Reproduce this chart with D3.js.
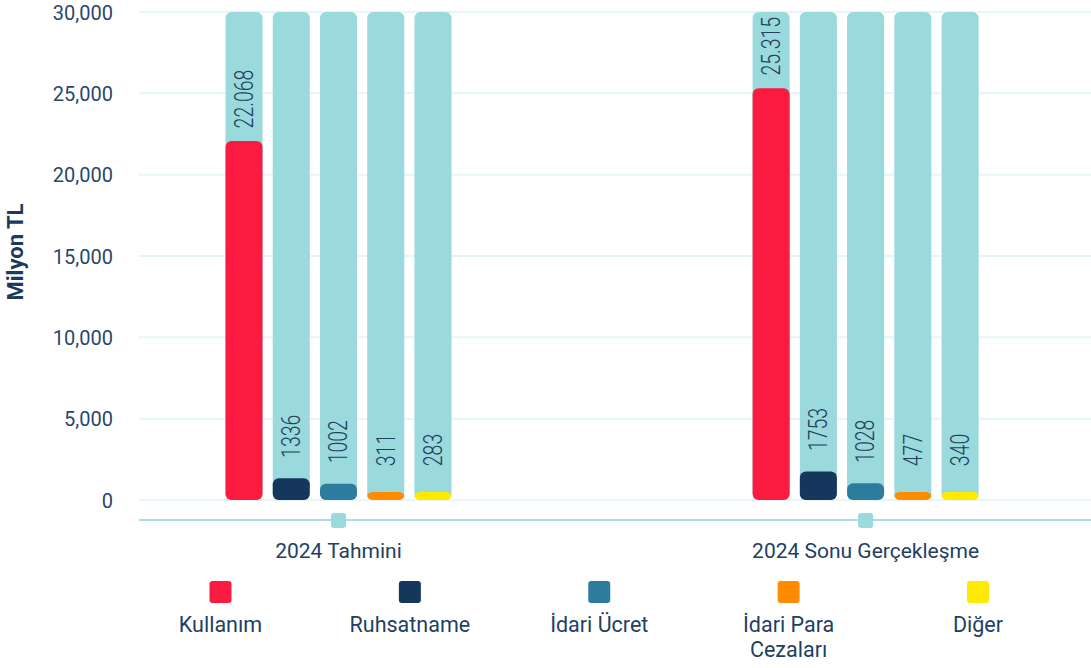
<!DOCTYPE html>
<html>
<head>
<meta charset="utf-8">
<script src="https://cdn.jsdelivr.net/npm/d3@7"></script>
<style>
  html, body { margin: 0; padding: 0; background: #ffffff; }
  svg { display: block; font-family: Roboto, "Noto Sans", sans-serif; }
</style>
</head>
<body>
<svg id="chart" width="1091" height="668"></svg>
<script>
// ---- data ----
const groups = ["2024 Tahmini", "2024 Sonu Gerçekleşme"];
const series = ["Kullanım", "Ruhsatname", "İdari Ücret", "İdari Para Cezaları", "Diğer"];
const legendLines = [["Kullanım"], ["Ruhsatname"], ["İdari Ücret"], ["İdari Para", "Cezaları"], ["Diğer"]];
const tahminiValues = [22068, 1336, 1002, 311, 283];
const gerceklesmeValues = [25315, 1753, 1028, 477, 340];
const valueLabels = [["22.068", "1336", "1002", "311", "283"], ["25.315", "1753", "1028", "477", "340"]];
const yTicks = [0, 5000, 10000, 15000, 20000, 25000, 30000];
const colors = ["#fb1a40", "#15375b", "#2e7c9d", "#ff8c00", "#ffea00"];
const yMax = 30000;

const allValues = [tahminiValues, gerceklesmeValues];

const svg = d3.select("#chart");
const textColor = "#223f63";

const y = d3.scaleLinear().domain([0, yMax]).range([500, 12]);
const x0 = d3.scalePoint().domain(groups).range([338.5, 865.6]);
const x1 = d3.scaleBand().domain(series).range([-113, 113]).paddingInner(0.216).paddingOuter(0);
const color = d3.scaleOrdinal().domain(series).range(colors);

// gridlines
svg.append("g").selectAll("line").data(yTicks).join("line")
  .attr("x1", 139).attr("x2", 1091)
  .attr("y1", d => y(d)).attr("y2", d => y(d))
  .attr("stroke", "#e6f5f6").attr("stroke-width", 2);

// y tick labels via axis
const yAxis = d3.axisLeft(y).tickValues(yTicks).tickSize(0).tickPadding(0)
  .tickFormat(d3.format(","));
const yg = svg.append("g").attr("transform", "translate(113,0)").call(yAxis);
yg.select(".domain").remove();
yg.selectAll("text").attr("fill", "#2a476b").attr("font-size", 20)
  .attr("font-family", "Roboto, sans-serif").attr("dy", "0.35em");

// axis title
svg.append("text")
  .attr("transform", "translate(23,252) rotate(-90)")
  .attr("text-anchor", "middle")
  .attr("font-size", 22).attr("font-weight", 700)
  .attr("fill", "#1a3a5e")
  .text("Milyon TL");

// baseline
svg.append("line").attr("x1", 139).attr("x2", 1091).attr("y1", 520).attr("y2", 520)
  .attr("stroke", "#a9dfe1").attr("stroke-width", 2);

// group markers
svg.append("g").selectAll("rect").data(groups).join("rect")
  .attr("x", d => x0(d) - 7.5).attr("y", 513).attr("width", 15).attr("height", 15)
  .attr("rx", 3).attr("fill", "#9ad9dc");

// x labels
svg.append("g").selectAll("text").data(groups).join("text")
  .attr("x", d => x0(d)).attr("y", 558)
  .attr("text-anchor", "middle").attr("font-size", 21)
  .attr("fill", textColor).text(d => d);

// bars
const bw = x1.bandwidth();
groups.forEach((g, gi) => {
  const gg = svg.append("g").attr("transform", `translate(${x0(g)},0)`);
  const data = series.map((s, si) => ({ s, v: allValues[gi][si], label: valueLabels[gi][si] }));
  // background bars
  gg.selectAll("rect.bg").data(data).join("rect").attr("class", "bg")
    .attr("x", d => x1(d.s)).attr("width", bw)
    .attr("y", y(yMax)).attr("height", y(0) - y(yMax))
    .attr("rx", 6).attr("fill", "#9ad9dc");
  // value bars (min visual height so tiny values stay visible)
  const h = d => Math.max(y(0) - y(d.v), 8);
  gg.selectAll("rect.val").data(data).join("rect").attr("class", "val")
    .attr("x", d => x1(d.s)).attr("width", bw)
    .attr("y", d => y(0) - h(d)).attr("height", d => h(d))
    .attr("rx", 6).attr("fill", d => color(d.s));
  // labels
  gg.selectAll("text.lbl").data(data).join("text").attr("class", "lbl")
    .attr("transform", d => `translate(${x1(d.s) + bw / 2},${y(0) - h(d) - 42}) rotate(-90) scale(0.78,1)`)
    .attr("text-anchor", "middle").attr("dy", "0.35em")
    .attr("font-size", 25).attr("font-weight", 300).attr("fill", "#22405f")
    .text(d => d.label);
});

// legend
const lx = d3.scalePoint().domain(series).range([220.5, 978]);
const lg = svg.append("g");
lg.selectAll("rect").data(series).join("rect")
  .attr("x", d => lx(d) - 11).attr("y", 581).attr("width", 22).attr("height", 22)
  .attr("rx", 3).attr("fill", d => color(d));
lg.selectAll("text").data(series).join("text")
  .attr("x", d => lx(d)).attr("y", 632)
  .attr("text-anchor", "middle").attr("font-size", 21.5).attr("fill", textColor)
  .each(function (d, i) {
    d3.select(this).selectAll("tspan").data(legendLines[i]).join("tspan")
      .attr("x", lx(d)).attr("dy", (t, j) => j === 0 ? 0 : 25).text(t => t);
  });
</script>
</body>
</html>
